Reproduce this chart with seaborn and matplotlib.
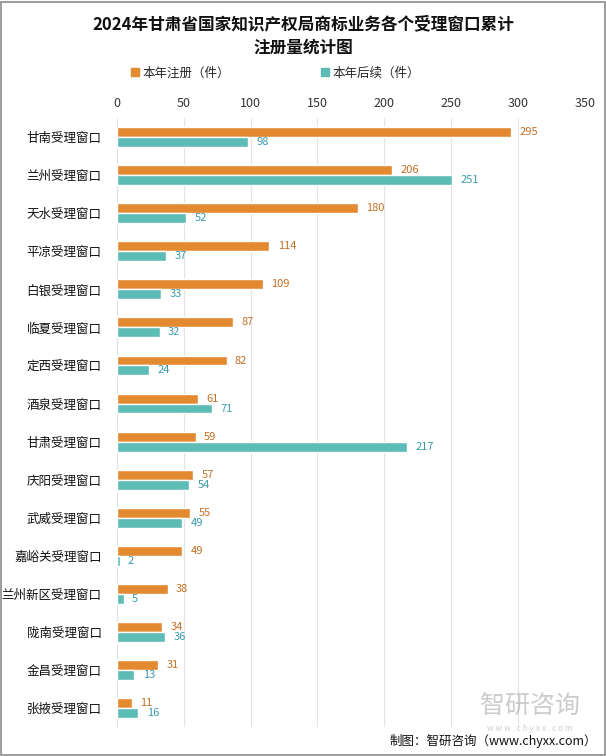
import matplotlib
matplotlib.use("Agg")
import matplotlib.pyplot as plt
import seaborn as sns
import pandas as pd
from matplotlib.patches import Rectangle, Patch

categories = ["甘南受理窗口", "兰州受理窗口", "天水受理窗口", "平凉受理窗口", "白银受理窗口",
              "临夏受理窗口", "定西受理窗口", "酒泉受理窗口", "甘肃受理窗口", "庆阳受理窗口",
              "武威受理窗口", "嘉峪关受理窗口", "兰州新区受理窗口", "陇南受理窗口", "金昌受理窗口",
              "张掖受理窗口"]
reg_values = [295, 206, 180, 114, 109, 87, 82, 61, 59, 57, 55, 49, 38, 34, 31, 11]
cont_values = [98, 251, 52, 37, 33, 32, 24, 71, 217, 54, 49, 2, 5, 36, 13, 16]
series_names = ["本年注册（件）", "本年后续（件）"]
x_ticks = [0, 50, 100, 150, 200, 250, 300, 350]

c_orange = "#E38A30"
c_teal = "#5DBDB6"
lab_orange = "#C46F23"
lab_teal = "#3A9BAA"

sns.set_theme(style="white")
plt.rcParams["font.family"] = ["Noto Sans CJK SC", "DejaVu Sans"]

df = pd.DataFrame({
    "cat": categories * 2,
    "val": reg_values + cont_values,
    "series": [series_names[0]] * len(categories) + [series_names[1]] * len(categories),
})

fig = plt.figure(figsize=(6.06, 7.56), dpi=100)
ax = fig.add_axes([0.193, 0.038, 0.772, 0.806])
sns.barplot(data=df, y="cat", x="val", hue="series", order=categories,
            hue_order=series_names, palette=[c_orange, c_teal], width=0.52,
            orient="h", ax=ax, legend=False, saturation=1)

ax.set_xlim(0, 350)
ax.set_xticks(x_ticks)
ax.xaxis.tick_top()
ax.tick_params(axis="x", length=0, labelsize=9, pad=6, colors="#333333")
ax.tick_params(axis="y", length=0, labelsize=9, pad=11, colors="#111111")
ax.set_xlabel("")
ax.set_ylabel("")
ax.grid(axis="x", color="#E3E3E3", linewidth=0.8)
ax.set_axisbelow(True)
for s in ax.spines.values():
    s.set_visible(False)

for container, col in zip(ax.containers, [lab_orange, lab_teal]):
    ax.bar_label(container, padding=6, fontsize=8, color=col)

handles = [Patch(color=c_orange), Patch(color=c_teal)]
fig.legend(handles, series_names, loc="center", bbox_to_anchor=(0.455, 0.903), ncol=2,
           frameon=False, fontsize=9, handlelength=0.6, handleheight=0.6,
           handletextpad=0.3, columnspacing=7.3)

fig.text(0.5, 0.952, "2024年甘肃省国家知识产权局商标业务各个受理窗口累计\n注册量统计图",
         ha="center", va="center", fontsize=12, fontweight="bold", linespacing=1.4,
         color="#111111")

# watermark
fig.text(0.875, 0.066, "智研咨询", ha="center", va="center", fontsize=18,
         color="#9A9A9A", alpha=0.5)
fig.text(0.875, 0.037, "w w w . c h y x x . c o m", ha="center", va="center", fontsize=6,
         color="#B0B0B0", alpha=0.6)
fig.text(0.985, 0.020, "制图：智研咨询（www.chyxx.com）", ha="right", va="center",
         fontsize=9, color="#111111")

fig.patches.append(Rectangle((0.001, 0.001), 0.997, 0.997, transform=fig.transFigure,
                             fill=False, edgecolor="#8C8C8C", linewidth=1.2))

fig.savefig("out.png", dpi=100)
